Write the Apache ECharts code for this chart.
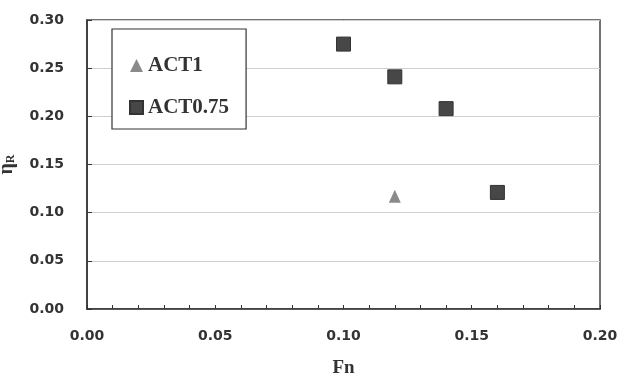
<!DOCTYPE html>
<html><head><meta charset="utf-8">
<script src="https://cdn.jsdelivr.net/npm/echarts@6/dist/echarts.min.js"></script>
<style>html,body{margin:0;padding:0;background:#fff}#c{width:618px;height:376px}</style>
</head><body><div id="c"></div>
<script>
const seriesNames = ['ACT1', 'ACT0.75'];
const act1Fn = [0.12];
const act1Eta = [0.117];
const act075Fn = [0.10, 0.12, 0.14, 0.16];
const act075Eta = [0.275, 0.241, 0.208, 0.121];
const xTicks = [0.00, 0.05, 0.10, 0.15, 0.20];
const yTicks = [0.00, 0.05, 0.10, 0.15, 0.20, 0.25, 0.30];

const chart = echarts.init(document.getElementById('c'));
const labelFont = {fontFamily: 'DejaVu Sans', fontWeight: 'bold', fontSize: 14, color: '#333'};
chart.setOption({
  animation: false,
  backgroundColor: '#fff',
  grid: {left: 87, right: 18, top: 20, bottom: 67, containLabel: false, outerBoundsMode: 'none',
         show: true, borderColor: '#444', borderWidth: 1.5},
  legend: {
    orient: 'vertical', left: 112, top: 29,
    padding: [26, 17, 11, 17], itemGap: 21,
    borderColor: '#333', borderWidth: 1.2, backgroundColor: '#fff',
    itemWidth: 13, itemHeight: 13,
    textStyle: {fontFamily: 'Liberation Serif', fontWeight: 'bold', fontSize: 21, color: '#333'},
    data: [{name: seriesNames[0], icon: 'triangle'}, {name: seriesNames[1], icon: 'rect'}]
  },
  xAxis: {
    type: 'value', min: xTicks[0], max: xTicks[xTicks.length - 1], interval: 0.05,
    name: 'Fn', nameLocation: 'middle', nameGap: 50,
    nameTextStyle: {fontFamily: 'Liberation Serif', fontWeight: 'bold', fontSize: 19, color: '#333'},
    axisLine: {lineStyle: {color: '#333', width: 1.5}},
    axisTick: {inside: true, length: 4, lineStyle: {color: '#333'}},
    minorTick: {show: true, splitNumber: 5, length: 4, lineStyle: {color: '#333'}},
    splitLine: {show: false},
    axisLabel: Object.assign({margin: 20, formatter: v => v.toFixed(2)}, labelFont)
  },
  yAxis: {
    type: 'value', min: yTicks[0], max: yTicks[yTicks.length - 1], interval: 0.05,
    name: '{a|η}{b|R}', nameLocation: 'middle', nameGap: 70, nameRotate: 90,
    nameTextStyle: {rich: {
      a: {fontFamily: 'Liberation Serif', fontWeight: 'bold', fontSize: 20, color: '#333'},
      b: {fontFamily: 'Liberation Serif', fontWeight: 'bold', fontSize: 12, color: '#333', verticalAlign: 'bottom', padding: [8, 0, 0, 0]}
    }},
    axisLine: {lineStyle: {color: '#333', width: 1.5}},
    axisTick: {inside: true, length: 5, lineStyle: {color: '#333'}},
    splitLine: {show: true, lineStyle: {color: '#cfcfcf', width: 1}},
    axisLabel: Object.assign({margin: 23, formatter: v => v.toFixed(2)}, labelFont)
  },
  series: [
    {name: seriesNames[0], type: 'scatter', symbol: 'triangle', symbolSize: [12, 13],
     itemStyle: {color: '#8a8a8a', opacity: 1},
     data: act1Fn.map((x, i) => [x, act1Eta[i]])},
    {name: seriesNames[1], type: 'scatter', symbol: 'rect', symbolSize: 14,
     itemStyle: {color: '#474747', borderColor: '#333', borderWidth: 1, opacity: 1},
     data: act075Fn.map((x, i) => [x, act075Eta[i]])}
  ]
});
</script></body></html>
